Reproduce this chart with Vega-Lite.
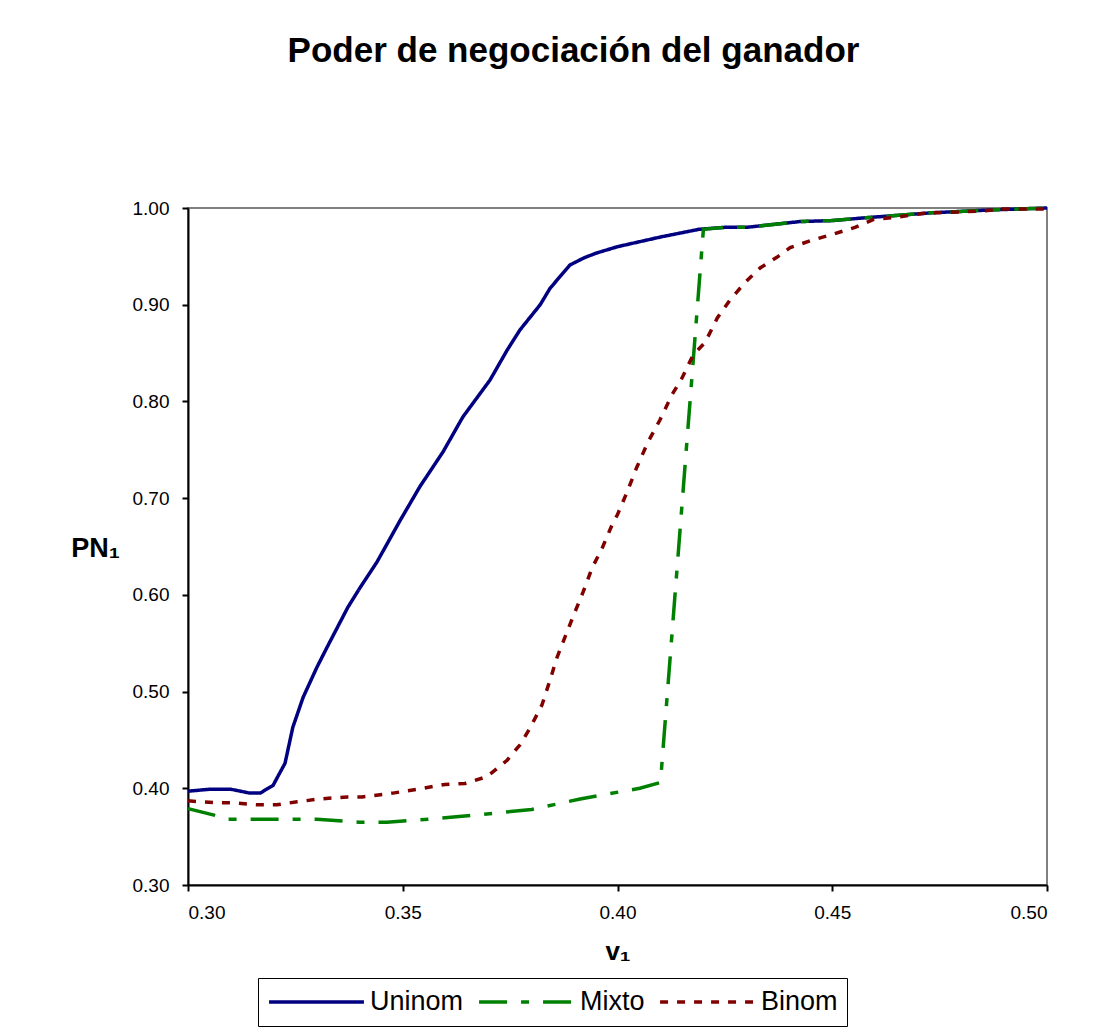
{
  "$schema": "https://vega.github.io/schema/vega-lite/v6.json",
  "width": 859,
  "height": 677,
  "autosize": {"type": "none"},
  "padding": {"left": 188, "top": 208, "right": 61, "bottom": 151},
  "background": "white",
  "title": {
    "text": "Poder de negociación del ganador",
    "font": "Liberation Sans",
    "fontSize": 35,
    "fontWeight": "bold",
    "color": "black",
    "anchor": "middle",
    "dx": -44,
    "offset": 130
  },
  "config": {
    "view": {"stroke": "#808080", "strokeWidth": 2},
    "axis": {
      "labelFont": "Liberation Sans",
      "labelFontSize": 19,
      "labelColor": "black",
      "domainColor": "black",
      "domainWidth": 2,
      "tickColor": "black",
      "tickWidth": 2,
      "tickSize": 6,
      "grid": false,
      "titleFont": "Liberation Sans",
      "titleColor": "black",
      "titleFontWeight": "bold"
    }
  },
  "data": {
    "values": [
      {"v": 0.3000, "pn": 0.397, "s": "Uninom"},
      {"v": 0.3051, "pn": 0.399, "s": "Uninom"},
      {"v": 0.3100, "pn": 0.399, "s": "Uninom"},
      {"v": 0.3144, "pn": 0.395, "s": "Uninom"},
      {"v": 0.3168, "pn": 0.395, "s": "Uninom"},
      {"v": 0.3198, "pn": 0.403, "s": "Uninom"},
      {"v": 0.3226, "pn": 0.426, "s": "Uninom"},
      {"v": 0.3244, "pn": 0.463, "s": "Uninom"},
      {"v": 0.3268, "pn": 0.494, "s": "Uninom"},
      {"v": 0.3300, "pn": 0.525, "s": "Uninom"},
      {"v": 0.3324, "pn": 0.546, "s": "Uninom"},
      {"v": 0.3372, "pn": 0.587, "s": "Uninom"},
      {"v": 0.3400, "pn": 0.607, "s": "Uninom"},
      {"v": 0.3440, "pn": 0.634, "s": "Uninom"},
      {"v": 0.3494, "pn": 0.677, "s": "Uninom"},
      {"v": 0.3540, "pn": 0.712, "s": "Uninom"},
      {"v": 0.3594, "pn": 0.748, "s": "Uninom"},
      {"v": 0.3640, "pn": 0.784, "s": "Uninom"},
      {"v": 0.3703, "pn": 0.822, "s": "Uninom"},
      {"v": 0.3743, "pn": 0.853, "s": "Uninom"},
      {"v": 0.3773, "pn": 0.874, "s": "Uninom"},
      {"v": 0.3820, "pn": 0.900, "s": "Uninom"},
      {"v": 0.3843, "pn": 0.917, "s": "Uninom"},
      {"v": 0.3889, "pn": 0.941, "s": "Uninom"},
      {"v": 0.3920, "pn": 0.948, "s": "Uninom"},
      {"v": 0.3948, "pn": 0.953, "s": "Uninom"},
      {"v": 0.4000, "pn": 0.960, "s": "Uninom"},
      {"v": 0.4100, "pn": 0.970, "s": "Uninom"},
      {"v": 0.4190, "pn": 0.978, "s": "Uninom"},
      {"v": 0.4250, "pn": 0.980, "s": "Uninom"},
      {"v": 0.4300, "pn": 0.980, "s": "Uninom"},
      {"v": 0.4425, "pn": 0.986, "s": "Uninom"},
      {"v": 0.4500, "pn": 0.987, "s": "Uninom"},
      {"v": 0.4580, "pn": 0.990, "s": "Uninom"},
      {"v": 0.4730, "pn": 0.995, "s": "Uninom"},
      {"v": 0.4870, "pn": 0.998, "s": "Uninom"},
      {"v": 0.5000, "pn": 1.000, "s": "Uninom"},
      {"v": 0.3000, "pn": 0.379, "s": "Mixto"},
      {"v": 0.3063, "pn": 0.372, "s": "Mixto"},
      {"v": 0.3093, "pn": 0.368, "s": "Mixto"},
      {"v": 0.3200, "pn": 0.368, "s": "Mixto"},
      {"v": 0.3300, "pn": 0.368, "s": "Mixto"},
      {"v": 0.3370, "pn": 0.366, "s": "Mixto"},
      {"v": 0.3400, "pn": 0.365, "s": "Mixto"},
      {"v": 0.3463, "pn": 0.365, "s": "Mixto"},
      {"v": 0.3559, "pn": 0.368, "s": "Mixto"},
      {"v": 0.3661, "pn": 0.372, "s": "Mixto"},
      {"v": 0.3800, "pn": 0.378, "s": "Mixto"},
      {"v": 0.3913, "pn": 0.389, "s": "Mixto"},
      {"v": 0.4052, "pn": 0.400, "s": "Mixto"},
      {"v": 0.4100, "pn": 0.406, "s": "Mixto"},
      {"v": 0.4200, "pn": 0.978, "s": "Mixto"},
      {"v": 0.4250, "pn": 0.980, "s": "Mixto"},
      {"v": 0.4300, "pn": 0.980, "s": "Mixto"},
      {"v": 0.4425, "pn": 0.986, "s": "Mixto"},
      {"v": 0.4500, "pn": 0.987, "s": "Mixto"},
      {"v": 0.4580, "pn": 0.990, "s": "Mixto"},
      {"v": 0.4730, "pn": 0.995, "s": "Mixto"},
      {"v": 0.4870, "pn": 0.998, "s": "Mixto"},
      {"v": 0.5000, "pn": 1.000, "s": "Mixto"},
      {"v": 0.3000, "pn": 0.387, "s": "Binom"},
      {"v": 0.3068, "pn": 0.385, "s": "Binom"},
      {"v": 0.3105, "pn": 0.385, "s": "Binom"},
      {"v": 0.3158, "pn": 0.383, "s": "Binom"},
      {"v": 0.3207, "pn": 0.383, "s": "Binom"},
      {"v": 0.3254, "pn": 0.386, "s": "Binom"},
      {"v": 0.3307, "pn": 0.389, "s": "Binom"},
      {"v": 0.3370, "pn": 0.391, "s": "Binom"},
      {"v": 0.3405, "pn": 0.391, "s": "Binom"},
      {"v": 0.3477, "pn": 0.395, "s": "Binom"},
      {"v": 0.3547, "pn": 0.400, "s": "Binom"},
      {"v": 0.3598, "pn": 0.404, "s": "Binom"},
      {"v": 0.3645, "pn": 0.405, "s": "Binom"},
      {"v": 0.3696, "pn": 0.412, "s": "Binom"},
      {"v": 0.3743, "pn": 0.429, "s": "Binom"},
      {"v": 0.3773, "pn": 0.445, "s": "Binom"},
      {"v": 0.3796, "pn": 0.462, "s": "Binom"},
      {"v": 0.3824, "pn": 0.486, "s": "Binom"},
      {"v": 0.3843, "pn": 0.512, "s": "Binom"},
      {"v": 0.3859, "pn": 0.535, "s": "Binom"},
      {"v": 0.3896, "pn": 0.577, "s": "Binom"},
      {"v": 0.3920, "pn": 0.603, "s": "Binom"},
      {"v": 0.3941, "pn": 0.628, "s": "Binom"},
      {"v": 0.3964, "pn": 0.648, "s": "Binom"},
      {"v": 0.3987, "pn": 0.672, "s": "Binom"},
      {"v": 0.4000, "pn": 0.683, "s": "Binom"},
      {"v": 0.4022, "pn": 0.706, "s": "Binom"},
      {"v": 0.4045, "pn": 0.732, "s": "Binom"},
      {"v": 0.4071, "pn": 0.758, "s": "Binom"},
      {"v": 0.4099, "pn": 0.781, "s": "Binom"},
      {"v": 0.4127, "pn": 0.807, "s": "Binom"},
      {"v": 0.4150, "pn": 0.824, "s": "Binom"},
      {"v": 0.4176, "pn": 0.848, "s": "Binom"},
      {"v": 0.4204, "pn": 0.861, "s": "Binom"},
      {"v": 0.4232, "pn": 0.886, "s": "Binom"},
      {"v": 0.4262, "pn": 0.905, "s": "Binom"},
      {"v": 0.4297, "pn": 0.923, "s": "Binom"},
      {"v": 0.4332, "pn": 0.938, "s": "Binom"},
      {"v": 0.4371, "pn": 0.949, "s": "Binom"},
      {"v": 0.4402, "pn": 0.959, "s": "Binom"},
      {"v": 0.4448, "pn": 0.966, "s": "Binom"},
      {"v": 0.4502, "pn": 0.973, "s": "Binom"},
      {"v": 0.4553, "pn": 0.980, "s": "Binom"},
      {"v": 0.4595, "pn": 0.988, "s": "Binom"},
      {"v": 0.4658, "pn": 0.991, "s": "Binom"},
      {"v": 0.4721, "pn": 0.995, "s": "Binom"},
      {"v": 0.4797, "pn": 0.996, "s": "Binom"},
      {"v": 0.4851, "pn": 0.997, "s": "Binom"},
      {"v": 0.4898, "pn": 0.999, "s": "Binom"},
      {"v": 0.5000, "pn": 0.999, "s": "Binom"}
    ]
  },
  "mark": {"type": "line", "strokeWidth": 3.5},
  "encoding": {
    "x": {
      "field": "v",
      "type": "quantitative",
      "scale": {"domain": [0.3, 0.5], "nice": false, "zero": false},
      "axis": {
        "values": [0.3, 0.35, 0.4, 0.45, 0.5],
        "format": ".2f",
        "labelPadding": 12,
        "title": "v₁",
        "titleFontSize": 26,
        "titlePadding": 16
      }
    },
    "y": {
      "field": "pn",
      "type": "quantitative",
      "scale": {"domain": [0.3, 1.0], "nice": false, "zero": false},
      "axis": {
        "values": [0.3, 0.4, 0.5, 0.6, 0.7, 0.8, 0.9, 1.0],
        "format": ".2f",
        "labelPadding": 13,
        "title": "PN₁",
        "titleFontSize": 27,
        "titleAngle": 0,
        "titleAlign": "center",
        "titleBaseline": "middle",
        "titleX": -93,
        "titleY": 340
      }
    },
    "color": {
      "field": "s",
      "type": "nominal",
      "sort": ["Uninom", "Mixto", "Binom"],
      "scale": {"domain": ["Uninom", "Mixto", "Binom"], "range": ["#000080", "#008000", "#800000"]},
      "legend": {
        "title": null,
        "orient": "none",
        "legendX": 70,
        "legendY": 770,
        "direction": "horizontal",
        "symbolType": "stroke",
        "symbolSize": 9000,
        "symbolStrokeWidth": 3.5,
        "clipHeight": 30,
        "labelFont": "Liberation Sans",
        "labelFontSize": 27,
        "labelColor": "black",
        "labelOffset": 4,
        "columnPadding": 13,
        "padding": 9,
        "strokeColor": "black",
        "fillColor": "white"
      }
    },
    "strokeDash": {
      "field": "s",
      "type": "nominal",
      "sort": ["Uninom", "Mixto", "Binom"],
      "scale": {"domain": ["Uninom", "Mixto", "Binom"], "range": [[1, 0], [28, 14, 8, 14], [8, 9]]},
      "legend": {
        "title": null,
        "orient": "none",
        "legendX": 70,
        "legendY": 770,
        "direction": "horizontal",
        "symbolType": "stroke",
        "symbolSize": 9000,
        "symbolStrokeWidth": 3.5,
        "clipHeight": 30,
        "labelFont": "Liberation Sans",
        "labelFontSize": 27,
        "labelColor": "black",
        "labelOffset": 4,
        "columnPadding": 13,
        "padding": 9,
        "strokeColor": "black",
        "fillColor": "white"
      }
    }
  }
}
